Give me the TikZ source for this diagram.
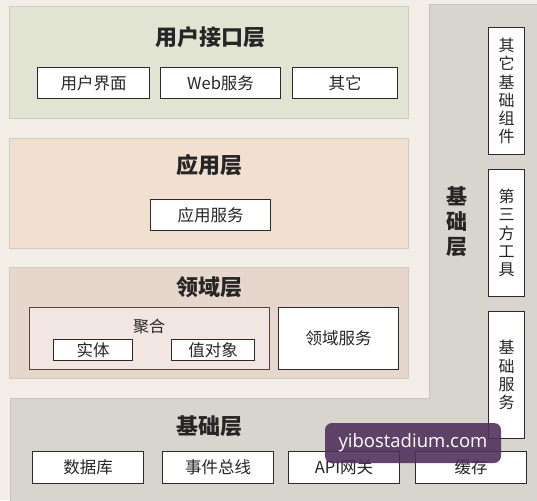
\documentclass[tikz,border=0pt]{standalone}
\usepackage{fontspec}
\setmainfont{Noto Sans CJK SC}
\newfontfamily\wmfont{Open Sans}
\definecolor{pagebg}{HTML}{F3EDE8}
\definecolor{basegray}{HTML}{D8D5CF}
\definecolor{baseedge}{HTML}{C8C4BC}
\definecolor{uigreen}{HTML}{E1E3D3}
\definecolor{apppeach}{HTML}{F1E0D0}
\definecolor{dompink}{HTML}{E6D6CC}
\definecolor{aggfill}{HTML}{F2E6E2}
\definecolor{aggedge}{HTML}{5A4038}
\definecolor{panedge}{HTML}{D0CBC0}
\definecolor{boxedge}{HTML}{2B2B2B}
\definecolor{wmpurple}{HTML}{4E2D58}
\tikzset{
  panel/.style={draw=panedge, line width=1pt, inner sep=0pt, outer sep=0pt, anchor=north west},
  itembox/.style={draw=boxedge, fill=white, line width=1.1pt, inner sep=0pt, anchor=north west,
    font=\fontsize{16.5}{18}\selectfont, text=black!85},
  vbox/.style={draw=boxedge, fill=white, line width=1.1pt, inner sep=0pt, anchor=north west,
    minimum width=36pt, minimum height=127pt, align=center,
    font=\fontsize{16}{18.2}\selectfont, text=black!85},
  title/.style={font=\fontsize{22}{24}\selectfont\bfseries, text=black!85},
  sublabel/.style={font=\fontsize{16}{18}\selectfont, text=black!85},
}
\begin{document}
\begin{tikzpicture}[x=1pt,y=-1pt]
\useasboundingbox (0,0) rectangle (537,500);
\fill[pagebg] (0,0) rectangle (537,500);
% gray base shape (right column + bottom band)
\filldraw[fill=basegray, draw=baseedge, line width=1pt]
  (10,398) -- (429,398) -- (429,5) -- (538,5) -- (538,501) -- (10,501) -- cycle;

% user interface layer
\node[panel, fill=uigreen, minimum width=399pt, minimum height=111pt] (ui) at (9,7) {};
\node[title] (uititle) at (210,37) {用户接口层};
\node[itembox, minimum width=112pt, minimum height=31pt] (uiface) at (37,67) {用户界面};
\node[itembox, minimum width=120pt, minimum height=31pt] (web) at (160,67) {Web服务};
\node[itembox, minimum width=105pt, minimum height=31pt] (other) at (292,67) {其它};

% application layer
\node[panel, fill=apppeach, minimum width=399pt, minimum height=110pt] (app) at (9,138) {};
\node[title] (apptitle) at (209,165) {应用层};
\node[itembox, minimum width=120pt, minimum height=31pt] (appsvc) at (150,199) {应用服务};

% domain layer
\node[panel, fill=dompink, minimum width=399pt, minimum height=111pt] (dom) at (9,267) {};
\node[title] (domtitle) at (209,287) {领域层};
\node[draw=aggedge, fill=aggfill, line width=1.1pt, inner sep=0pt, anchor=north west,
  minimum width=240pt, minimum height=62pt] (agg) at (29,307) {};
\node[sublabel] (aggtitle) at (149,326) {聚合};
\node[itembox, minimum width=79pt, minimum height=21pt] (entity) at (53,339) {实体};
\node[itembox, minimum width=83pt, minimum height=21pt] (valobj) at (171,339) {值对象};
\node[itembox, minimum width=120pt, minimum height=62pt] (domsvc) at (278,307) {领域服务};

% infrastructure layer (bottom)
\node[title] (basetitle) at (209,426) {基础层};
\node[itembox, minimum width=111pt, minimum height=32pt] (db) at (32,451) {数据库};
\node[itembox, minimum width=111pt, minimum height=32pt] (bus) at (162,451) {事件总线};
\node[itembox, minimum width=111pt, minimum height=32pt] (api) at (288,451) {API网关};
\node[itembox, minimum width=111pt, minimum height=32pt] (cache) at (415,451) {缓存};

% infrastructure column (right)
\node[font=\fontsize{21}{25}\selectfont\bfseries, text=black!85, align=center] (coltitle) at (457,222) {基\\础\\层};
\node[vbox] (otherbase) at (488,27) {其\\它\\基\\础\\组\\件};
\node[vbox] (thirdparty) at (488,169) {第\\三\\方\\工\\具};
\node[vbox] (basesvc) at (488,311) {基\\础\\服\\务};

% watermark
\node[fill=wmpurple, fill opacity=0.88, text opacity=1, rounded corners=7pt,
  minimum width=176pt, minimum height=40pt, inner sep=0pt,
  font=\wmfont\fontsize{18.5}{20}\selectfont, text=white] (wm) at (413,443) {yibostadium.com};
\end{tikzpicture}
\end{document}
